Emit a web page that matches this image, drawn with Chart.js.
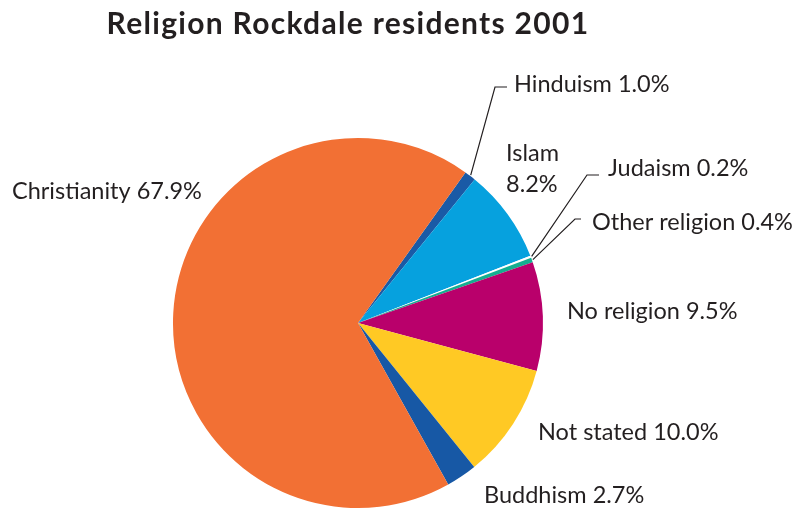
<!DOCTYPE html>
<html>
<head>
<meta charset="utf-8">
<title>Religion Rockdale residents 2001</title>
<script src="https://cdn.jsdelivr.net/npm/chart.js@4/dist/chart.umd.min.js"></script>
<style>
  body { margin: 0; background: #fff; }
  #wrap { width: 807px; height: 510px; }
</style>
</head>
<body>
<div id="wrap"><canvas id="pie" width="807" height="510"></canvas></div>
<script>
// Religion of Rockdale residents, 2001 census (% of residents)
const religions = ['Hinduism', 'Islam', 'Judaism', 'Other religion', 'No religion', 'Not stated', 'Buddhism', 'Christianity'];
const shares = [1.0, 8.2, 0.2, 0.4, 9.5, 10.0, 2.7, 67.9];
const sliceColors = ['#1a5aa6', '#06a1de', '#ffffff', '#14ae90', '#b9006b', '#ffc924', '#1758a5', '#f27034'];

const inkColor = '#231f20';
const fontFamily = 'Lato, "Open Sans", sans-serif';

// where each label sits; elbow = leader line bend for the thin slices
const labelLayout = [
  { x: 514, y: 84, elbow: [495, 87, 507] },
  { x: 506, y: 153, twoLines: true },
  { x: 608, y: 168, elbow: [587, 175, 599] },
  { x: 592, y: 222, elbow: [575, 219, 581] },
  { x: 567, y: 311 },
  { x: 538, y: 432 },
  { x: 484, y: 495 },
  { x: 12, y: 191 }
];

const labelsPlugin = {
  id: 'pieLabels',
  afterDraw(chart) {
    const ctx = chart.ctx;
    const arcs = chart.getDatasetMeta(0).data;
    ctx.save();

    // title
    ctx.fillStyle = inkColor;
    ctx.font = 'bold 30px ' + fontFamily;
    ctx.letterSpacing = '1.3px';
    ctx.textAlign = 'center';
    ctx.textBaseline = 'middle';
    ctx.fillText('Religion Rockdale residents 2001', 348, 24);
    ctx.letterSpacing = '0px';

    ctx.font = '23.5px ' + fontFamily;
    ctx.textAlign = 'left';
    religions.forEach((name, i) => {
      const pos = labelLayout[i];
      const pct = shares[i].toFixed(1) + '%';
      if (pos.twoLines) {
        ctx.fillText(name, pos.x, pos.y);
        ctx.fillText(pct, pos.x, pos.y + 31);
      } else {
        ctx.fillText(name + ' ' + pct, pos.x, pos.y);
      }
      if (pos.elbow) {
        const arc = arcs[i];
        const mid = (arc.startAngle + arc.endAngle) / 2;
        const r = arc.outerRadius + 1;
        const ax = arc.x + Math.cos(mid) * r;
        const ay = arc.y + Math.sin(mid) * r;
        ctx.strokeStyle = inkColor;
        ctx.lineWidth = 1.2;
        ctx.beginPath();
        ctx.moveTo(ax, ay);
        ctx.lineTo(pos.elbow[0], pos.elbow[1]);
        ctx.lineTo(pos.elbow[2], pos.elbow[1]);
        ctx.stroke();
      }
    });
    ctx.restore();
  }
};

new Chart(document.getElementById('pie'), {
  type: 'pie',
  data: {
    labels: religions,
    datasets: [{
      data: shares,
      backgroundColor: sliceColors,
      borderWidth: 0
    }]
  },
  options: {
    responsive: false,
    animation: false,
    rotation: 35.5,
    layout: { padding: { left: 173, right: 264, top: 138, bottom: 2 } },
    plugins: {
      legend: { display: false },
      tooltip: { enabled: false }
    }
  },
  plugins: [labelsPlugin]
});
</script>
</body>
</html>
